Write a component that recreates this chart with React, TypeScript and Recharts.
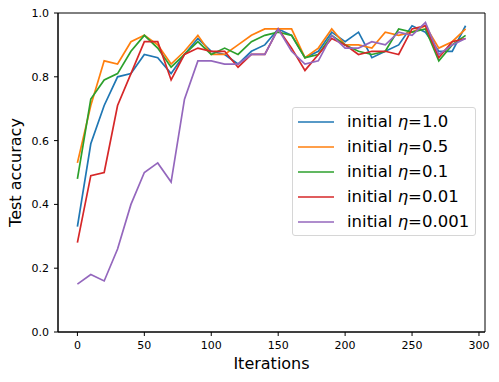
import React from 'react';
import { LineChart, Line, XAxis, YAxis, Legend, ReferenceArea } from 'recharts';

const iterations = [0, 10, 20, 30, 40, 50, 60, 70, 80, 90, 100, 110, 120, 130, 140, 150, 160, 170, 180, 190, 200, 210, 220, 230, 240, 250, 260, 270, 280, 290];
const eta1 = [0.33, 0.59, 0.71, 0.80, 0.81, 0.87, 0.86, 0.81, 0.87, 0.92, 0.88, 0.87, 0.84, 0.88, 0.90, 0.95, 0.93, 0.86, 0.88, 0.94, 0.91, 0.94, 0.86, 0.88, 0.90, 0.96, 0.94, 0.88, 0.88, 0.96];
const eta05 = [0.53, 0.71, 0.85, 0.84, 0.91, 0.93, 0.90, 0.84, 0.88, 0.93, 0.87, 0.87, 0.90, 0.93, 0.95, 0.95, 0.95, 0.86, 0.89, 0.95, 0.90, 0.90, 0.89, 0.94, 0.93, 0.94, 0.96, 0.89, 0.91, 0.95];
const eta01 = [0.48, 0.73, 0.79, 0.81, 0.88, 0.93, 0.89, 0.83, 0.87, 0.91, 0.87, 0.89, 0.87, 0.91, 0.93, 0.94, 0.93, 0.86, 0.87, 0.93, 0.90, 0.88, 0.87, 0.88, 0.95, 0.94, 0.95, 0.85, 0.90, 0.93];
const eta001 = [0.28, 0.49, 0.50, 0.71, 0.81, 0.91, 0.91, 0.79, 0.87, 0.89, 0.88, 0.88, 0.83, 0.87, 0.87, 0.95, 0.89, 0.82, 0.87, 0.92, 0.90, 0.87, 0.88, 0.88, 0.87, 0.95, 0.96, 0.86, 0.91, 0.92];
const eta0001 = [0.15, 0.18, 0.16, 0.26, 0.40, 0.50, 0.53, 0.47, 0.73, 0.85, 0.85, 0.84, 0.84, 0.87, 0.87, 0.95, 0.88, 0.84, 0.85, 0.93, 0.89, 0.89, 0.91, 0.90, 0.94, 0.93, 0.97, 0.87, 0.90, 0.92];

const xTicks = [0, 50, 100, 150, 200, 250, 300];
const yTicks = [0, 0.2, 0.4, 0.6, 0.8, 1.0];

const seriesDefs = [
  { key: 'eta1', label: '1.0', color: '#1f77b4', values: eta1 },
  { key: 'eta05', label: '0.5', color: '#ff7f0e', values: eta05 },
  { key: 'eta01', label: '0.1', color: '#2ca02c', values: eta01 },
  { key: 'eta001', label: '0.01', color: '#d62728', values: eta001 },
  { key: 'eta0001', label: '0.001', color: '#9467bd', values: eta0001 },
];

const data = iterations.map((it, i) => {
  const row: Record<string, number> = { it };
  seriesDefs.forEach((s) => {
    row[s.key] = s.values[i];
  });
  return row;
});

const FONT = '"DejaVu Sans", sans-serif';

const LegendBox = () => (
  <div
    style={{
      width: 184,
      height: 129,
      border: '1px solid #d6d6d6',
      borderRadius: 3,
      background: 'rgba(255,255,255,0.8)',
      fontFamily: FONT,
      fontSize: 16.5,
      color: '#000',
      position: 'relative',
      boxSizing: 'border-box',
    }}
  >
    {seriesDefs.map((s, i) => (
      <div
        key={s.key}
        style={{
          position: 'absolute',
          left: 0,
          top: 14 + i * 25 - 12,
          height: 24,
          display: 'flex',
          alignItems: 'center',
          whiteSpace: 'nowrap',
        }}
      >
        <svg width={54} height={24} style={{ display: 'block' }}>
          <line x1={5} x2={41} y1={12} y2={12} stroke={s.color} strokeWidth={1.7} />
        </svg>
        <span style={{ lineHeight: '24px' }}>
          initial <i>η</i>=<span>{s.label}</span>
        </span>
      </div>
    ))}
  </div>
);

export default function App() {
  return (
    <div style={{ position: 'absolute', left: 0, top: 0, width: 499, height: 382, background: '#fff' }}>
      <LineChart
        width={499}
        height={382}
        data={data}
        margin={{ top: 13, right: 14, bottom: 0, left: 0 }}
      >
        <XAxis
          dataKey="it"
          type="number"
          domain={[-14.5, 304.5]}
          ticks={xTicks}
          allowDataOverflow
          height={50}
          stroke="#000"
          tickSize={4}
          tickMargin={5}
          tick={{ fill: '#000', fontSize: 11, fontFamily: FONT }}
          axisLine={{ stroke: '#000', strokeWidth: 1 }}
          tickLine={{ stroke: '#000' }}
          label={{
            content: () => (
              <text x={271.5} y={369} textAnchor="middle" fontSize={16} fontFamily={FONT} fill="#000">
                Iterations
              </text>
            ),
          }}
        />
        <YAxis
          type="number"
          domain={[0, 1]}
          ticks={yTicks}
          width={58}
          stroke="#000"
          tickSize={4}
          tickMargin={5}
          tickFormatter={(v: number) => v.toFixed(1)}
          tick={{ fill: '#000', fontSize: 11, fontFamily: FONT }}
          axisLine={{ stroke: '#000', strokeWidth: 1 }}
          tickLine={{ stroke: '#000' }}
          label={{
            content: () => (
              <text
                x={21}
                y={172.5}
                transform="rotate(-90 21 172.5)"
                textAnchor="middle"
                fontSize={16}
                fontFamily={FONT}
                fill="#000"
              >
                Test accuracy
              </text>
            ),
          }}
        />
        <ReferenceArea
          x1={-14.5}
          x2={304.5}
          y1={0}
          y2={1}
          fill="none"
          stroke="#000"
          strokeWidth={1}
          ifOverflow="visible"
        />
        {seriesDefs.map((s) => (
          <Line
            key={s.key}
            type="linear"
            dataKey={s.key}
            stroke={s.color}
            strokeWidth={1.7}
            dot={false}
            activeDot={false}
            isAnimationActive={false}
          />
        ))}
        <Legend
          layout="vertical"
          align="center"
          verticalAlign="middle"
          content={() => <LegendBox />}
          wrapperStyle={{ left: 292, top: 107, width: 184, height: 129 }}
        />
      </LineChart>
    </div>
  );
}
